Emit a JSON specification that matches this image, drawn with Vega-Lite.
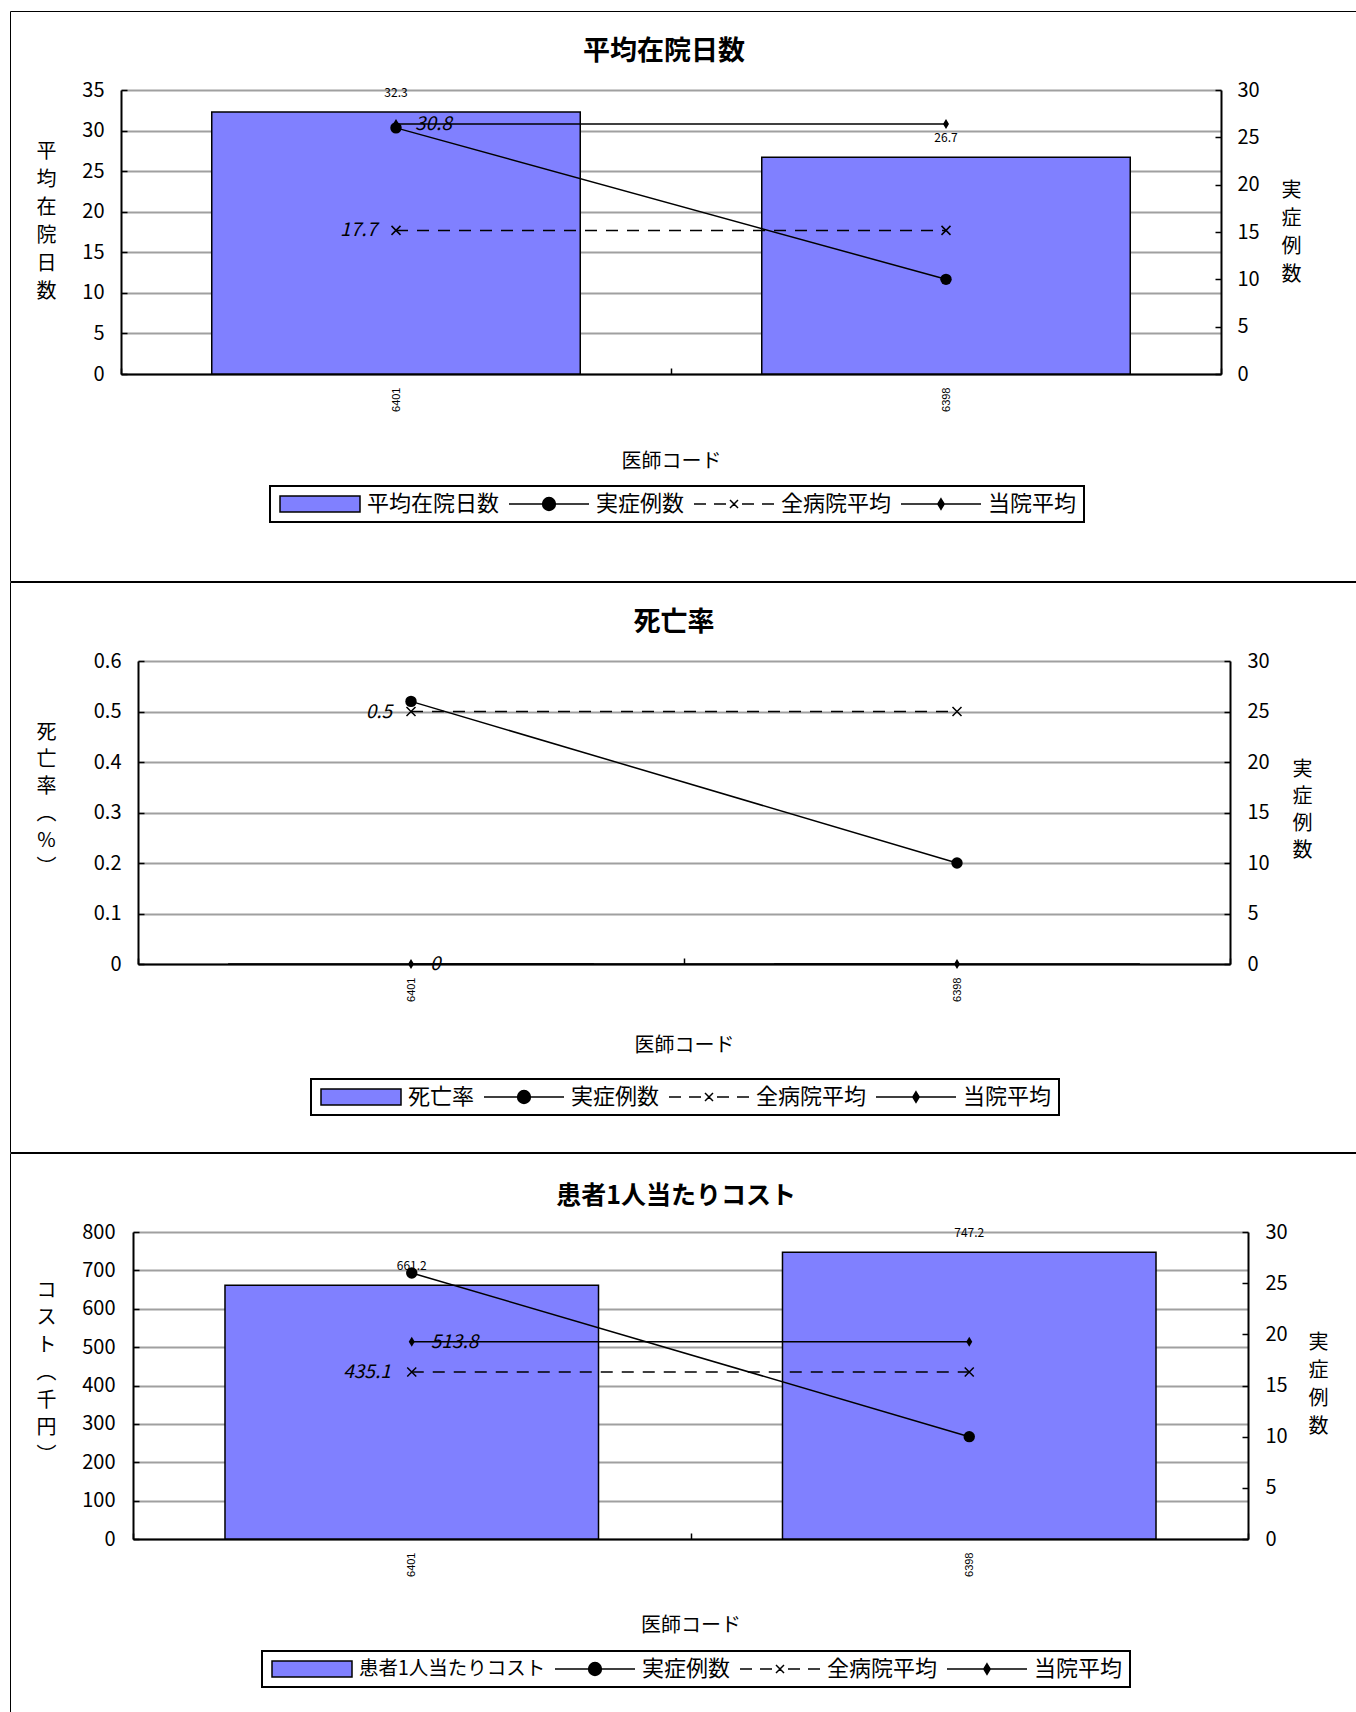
{
  "$schema": "https://vega.github.io/schema/vega-lite/v6.json",
  "padding": {"left": 3, "top": 10, "right": 0, "bottom": 0},
  "background": "white",
  "spacing": -4,
  "config": {"view": {"stroke": "black", "strokeWidth": 1}, "font": "Noto Sans CJK JP"},
  "resolve": {"scale": {"fill": "independent", "shape": "independent"}, "legend": {"fill": "independent", "shape": "independent"}},
  "vconcat": [
    {
      "width": 1360, "height": 570,
      "title": {"text": "平均在院日数", "offset": -68, "baseline": "middle", "dx": -26, "fontSize": 27, "fontWeight": "bold", "font": "Noto Sans CJK JP", "color": "black", "anchor": "middle", "frame": "group"},
      "data": {"values": [
        {"doc": "6401", "series": "平均在院日数", "value": 32.3},
        {"doc": "6398", "series": "平均在院日数", "value": 26.7},
        {"doc": "6401", "series": "実症例数", "value": 26},
        {"doc": "6398", "series": "実症例数", "value": 10},
        {"doc": "6401", "series": "全病院平均", "value": 17.7},
        {"doc": "6398", "series": "全病院平均", "value": 17.7},
        {"doc": "6401", "series": "当院平均", "value": 30.8},
        {"doc": "6398", "series": "当院平均", "value": 30.8}
      ]},
      "encoding": {
        "x": {"field": "doc", "type": "nominal", "sort": ["6401", "6398"],
          "scale": {"range": [111, 1211], "paddingInner": 0, "paddingOuter": 0},
          "axis": {"orient": "bottom", "offset": -207, "title": "医師コード", "titleFont": "Noto Sans CJK JP", "titleFontSize": 20, "titleFontWeight": "normal", "titleColor": "black", "titlePadding": 40,
            "labelAngle": 270, "labelFont": "Liberation Sans", "labelFontSize": 11, "labelColor": "black", "labelPadding": 19,
            "tickBand": "extent", "tickSize": -6, "tickColor": "black", "tickWidth": 1.5, "domainColor": "black", "domainWidth": 2, "grid": false}}
      },
      "layer": [
        {
          "encoding": {"y": {"field": "value", "type": "quantitative",
            "scale": {"domain": [0, 35], "range": [363, 79], "nice": false, "zero": true},
            "axis": {"orient": "left", "offset": -111, "values": [0, 5, 10, 15, 20, 25, 30, 35],
              "title": ["平", "均", "在", "院", "日", "数"], "titleAngle": 0, "titleAlign": "center", "titleBaseline": "middle", "titleFont": "Noto Sans CJK JP", "titleFontSize": 20, "titleFontWeight": "normal", "titleColor": "black", "titleLineHeight": 28, "titlePadding": -105, "titleY": 140,
              "minExtent": 40, "maxExtent": 40, "labelFont": "Noto Sans CJK JP", "labelFontSize": 20, "labelColor": "black", "labelPadding": 23,
              "tickSize": -6, "tickColor": "black", "tickWidth": 1.5, "domainColor": "black", "domainWidth": 2, "grid": true, "gridColor": "#a0a0a0", "gridWidth": 2}}},
          "layer": [
            {"transform": [{"filter": "datum.series === '平均在院日数'"}], "mark": {"type": "bar", "width": {"band": 0.67}, "color": "#8080ff", "stroke": "black", "strokeWidth": 1.5}},
            {"transform": [{"filter": "datum.series === '平均在院日数'"}], "mark": {"type": "text", "dy": -19, "fontSize": 12, "font": "Noto Sans CJK JP", "color": "black", "baseline": "middle"}, "encoding": {"text": {"field": "value", "type": "nominal"}}},
            {"transform": [{"filter": "datum.series === '全病院平均'"}], "mark": {"type": "line", "color": "black", "strokeWidth": 1.5, "strokeDash": [12, 9]}, "encoding": {}},
            {"transform": [{"filter": "datum.series === '全病院平均'"}], "mark": {"type": "point", "shape": "M-1,-1L1,1M-1,1L1,-1", "size": 81, "filled": false, "color": "black", "strokeWidth": 1.5, "opacity": 1}},
            {"transform": [{"filter": "datum.series === '全病院平均' && datum.doc === '6401'"}], "mark": {"type": "text", "align": "right", "dx": -19, "fontStyle": "italic", "fontSize": 19, "font": "Noto Sans CJK JP", "color": "black", "baseline": "middle"}, "encoding": {"text": {"field": "value", "type": "nominal"}}},
            {"transform": [{"filter": "datum.series === '当院平均'"}], "mark": {"type": "line", "color": "black", "strokeWidth": 1.5}, "encoding": {}},
            {"transform": [{"filter": "datum.series === '当院平均'"}], "mark": {"type": "point", "shape": "M0,-1L0.6,0L0,1L-0.6,0Z", "size": 100, "filled": true, "color": "black", "opacity": 1}},
            {"transform": [{"filter": "datum.series === '当院平均' && datum.doc === '6401'"}], "mark": {"type": "text", "align": "left", "dx": 19, "fontStyle": "italic", "fontSize": 19, "font": "Noto Sans CJK JP", "color": "black", "baseline": "middle"}, "encoding": {"text": {"field": "value", "type": "nominal"}}},
            {"transform": [{"filter": "false"}], "mark": {"type": "point", "filled": true},
              "encoding": {
                "fill": {"field": "series", "type": "nominal", "scale": {"domain": ["平均在院日数", "実症例数", "全病院平均", "当院平均"], "range": ["#8080ff", "black", "black", "black"]},
                  "legend": {"title": null, "orient": "none", "legendX": 260, "legendY": 475, "direction": "horizontal", "columns": 4, "strokeColor": "black", "fillColor": "white", "padding": 7, "columnPadding": 6, "labelFont": "Noto Sans CJK JP", "labelFontSize": 22, "labelColor": "black", "labelLimit": 400, "labelOffset": 68, "symbolSize": 256, "symbolStrokeColor": "black", "symbolStrokeWidth": 1.5, "symbolOpacity": 1, "encode": {"legend": {"update": {"strokeWidth": {"value": 2}}}}}},
                "shape": {"field": "series", "type": "nominal", "scale": {"domain": ["平均在院日数", "実症例数", "全病院平均", "当院平均"], "range": ["M-1,-1H9V1H-1Z", "M-1,0H9M4.8,0A0.8,0.8 0 1,1 3.2,0A0.8,0.8 0 1,1 4.8,0Z", "M-1,0H0.5M1.5,0H3M5,0H6.5M7.5,0H9M3.5,-0.5L4.5,0.5M3.5,0.5L4.5,-0.5", "M-1,0H9M4,-0.65L4.4,0L4,0.65L3.6,0Z"]},
                  "legend": {"title": null, "orient": "none", "legendX": 260, "legendY": 475, "direction": "horizontal", "columns": 4, "strokeColor": "black", "fillColor": "white", "padding": 7, "columnPadding": 6, "labelFont": "Noto Sans CJK JP", "labelFontSize": 22, "labelColor": "black", "labelLimit": 400, "labelOffset": 68, "symbolSize": 256, "symbolStrokeColor": "black", "symbolStrokeWidth": 1.5, "symbolOpacity": 1, "encode": {"legend": {"update": {"strokeWidth": {"value": 2}}}}}}
              }}
          ]
        },
        {
          "encoding": {"y": {"field": "value", "type": "quantitative",
            "scale": {"domain": [0, 30], "range": [363, 79], "nice": false, "zero": true},
            "axis": {"orient": "right", "offset": -149, "values": [0, 5, 10, 15, 20, 25, 30],
              "title": ["実", "症", "例", "数"], "titleAngle": 0, "titleAlign": "center", "titleBaseline": "middle", "titleFont": "Noto Sans CJK JP", "titleFontSize": 20, "titleFontWeight": "normal", "titleColor": "black", "titleLineHeight": 28, "titlePadding": -50, "titleY": 179,
              "minExtent": 36, "maxExtent": 36, "labelFont": "Noto Sans CJK JP", "labelFontSize": 20, "labelColor": "black", "labelPadding": 22,
              "tickSize": -6, "tickColor": "black", "tickWidth": 1.5, "domainColor": "black", "domainWidth": 2, "grid": false}}},
          "layer": [
            {"transform": [{"filter": "datum.series === '実症例数'"}], "mark": {"type": "line", "color": "black", "strokeWidth": 1.5}, "encoding": {}},
            {"transform": [{"filter": "datum.series === '実症例数'"}], "mark": {"type": "point", "shape": "circle", "size": 130, "filled": true, "color": "black", "opacity": 1}}
          ]
        }
      ],
      "resolve": {"scale": {"y": "independent"}}
    },
    {
      "width": 1360, "height": 570,
      "title": {"text": "死亡率", "offset": -68, "baseline": "middle", "dx": -16, "fontSize": 27, "fontWeight": "bold", "font": "Noto Sans CJK JP", "color": "black", "anchor": "middle", "frame": "group"},
      "data": {"values": [
        {"doc": "6401", "series": "死亡率", "value": 0},
        {"doc": "6398", "series": "死亡率", "value": 0},
        {"doc": "6401", "series": "実症例数", "value": 26},
        {"doc": "6398", "series": "実症例数", "value": 10},
        {"doc": "6401", "series": "全病院平均", "value": 0.5},
        {"doc": "6398", "series": "全病院平均", "value": 0.5},
        {"doc": "6401", "series": "当院平均", "value": 0},
        {"doc": "6398", "series": "当院平均", "value": 0}
      ]},
      "encoding": {
        "x": {"field": "doc", "type": "nominal", "sort": ["6401", "6398"],
          "scale": {"range": [128, 1220], "paddingInner": 0, "paddingOuter": 0},
          "axis": {"orient": "bottom", "offset": -188, "title": "医師コード", "titleFont": "Noto Sans CJK JP", "titleFontSize": 20, "titleFontWeight": "normal", "titleColor": "black", "titlePadding": 34,
            "labelAngle": 270, "labelFont": "Liberation Sans", "labelFontSize": 11, "labelColor": "black", "labelPadding": 19,
            "tickBand": "extent", "tickSize": -6, "tickColor": "black", "tickWidth": 1.5, "domainColor": "black", "domainWidth": 2, "grid": false}}
      },
      "layer": [
        {
          "encoding": {"y": {"field": "value", "type": "quantitative",
            "scale": {"domain": [0, 0.6], "range": [382, 79], "nice": false, "zero": true},
            "axis": {"orient": "left", "offset": -128, "values": [0, 0.1, 0.2, 0.3, 0.4, 0.5, 0.6], "format": "~g",
              "title": ["死", "亡", "率", "︵", "%", "︶"], "titleAngle": 0, "titleAlign": "center", "titleBaseline": "middle", "titleFont": "Noto Sans CJK JP", "titleFontSize": 20, "titleFontWeight": "normal", "titleColor": "black", "titleLineHeight": 27, "titlePadding": -83, "titleY": 150,
              "minExtent": 40, "maxExtent": 40, "labelFont": "Noto Sans CJK JP", "labelFontSize": 20, "labelColor": "black", "labelPadding": 23,
              "tickSize": -6, "tickColor": "black", "tickWidth": 1.5, "domainColor": "black", "domainWidth": 2, "grid": true, "gridColor": "#a0a0a0", "gridWidth": 2}}},
          "layer": [
            {"transform": [{"filter": "datum.series === '死亡率'"}], "mark": {"type": "bar", "width": {"band": 0.67}, "color": "#8080ff", "stroke": "black", "strokeWidth": 1.5}},
            {"transform": [{"filter": "datum.series === '全病院平均'"}], "mark": {"type": "line", "color": "black", "strokeWidth": 1.5, "strokeDash": [12, 9]}, "encoding": {}},
            {"transform": [{"filter": "datum.series === '全病院平均'"}], "mark": {"type": "point", "shape": "M-1,-1L1,1M-1,1L1,-1", "size": 81, "filled": false, "color": "black", "strokeWidth": 1.5, "opacity": 1}},
            {"transform": [{"filter": "datum.series === '全病院平均' && datum.doc === '6401'"}], "mark": {"type": "text", "align": "right", "dx": -19, "fontStyle": "italic", "fontSize": 19, "font": "Noto Sans CJK JP", "color": "black", "baseline": "middle"}, "encoding": {"text": {"field": "value", "type": "nominal"}}},
            {"transform": [{"filter": "datum.series === '当院平均'"}], "mark": {"type": "line", "color": "black", "strokeWidth": 1.5}, "encoding": {}},
            {"transform": [{"filter": "datum.series === '当院平均'"}], "mark": {"type": "point", "shape": "M0,-1L0.6,0L0,1L-0.6,0Z", "size": 100, "filled": true, "color": "black", "opacity": 1}},
            {"transform": [{"filter": "datum.series === '当院平均' && datum.doc === '6401'"}], "mark": {"type": "text", "align": "left", "dx": 19, "fontStyle": "italic", "fontSize": 19, "font": "Noto Sans CJK JP", "color": "black", "baseline": "middle"}, "encoding": {"text": {"field": "value", "type": "nominal"}}},
            {"transform": [{"filter": "false"}], "mark": {"type": "point", "filled": true},
              "encoding": {
                "fill": {"field": "series", "type": "nominal", "scale": {"domain": ["死亡率", "実症例数", "全病院平均", "当院平均"], "range": ["#8080ff", "black", "black", "black"]},
                  "legend": {"title": null, "orient": "none", "legendX": 301, "legendY": 497, "direction": "horizontal", "columns": 4, "strokeColor": "black", "fillColor": "white", "padding": 7, "columnPadding": 6, "labelFont": "Noto Sans CJK JP", "labelFontSize": 22, "labelColor": "black", "labelLimit": 400, "labelOffset": 68, "symbolSize": 256, "symbolStrokeColor": "black", "symbolStrokeWidth": 1.5, "symbolOpacity": 1, "encode": {"legend": {"update": {"strokeWidth": {"value": 2}}}}}},
                "shape": {"field": "series", "type": "nominal", "scale": {"domain": ["死亡率", "実症例数", "全病院平均", "当院平均"], "range": ["M-1,-1H9V1H-1Z", "M-1,0H9M4.8,0A0.8,0.8 0 1,1 3.2,0A0.8,0.8 0 1,1 4.8,0Z", "M-1,0H0.5M1.5,0H3M5,0H6.5M7.5,0H9M3.5,-0.5L4.5,0.5M3.5,0.5L4.5,-0.5", "M-1,0H9M4,-0.65L4.4,0L4,0.65L3.6,0Z"]},
                  "legend": {"title": null, "orient": "none", "legendX": 301, "legendY": 497, "direction": "horizontal", "columns": 4, "strokeColor": "black", "fillColor": "white", "padding": 7, "columnPadding": 6, "labelFont": "Noto Sans CJK JP", "labelFontSize": 22, "labelColor": "black", "labelLimit": 400, "labelOffset": 68, "symbolSize": 256, "symbolStrokeColor": "black", "symbolStrokeWidth": 1.5, "symbolOpacity": 1, "encode": {"legend": {"update": {"strokeWidth": {"value": 2}}}}}}
              }}
          ]
        },
        {
          "encoding": {"y": {"field": "value", "type": "quantitative",
            "scale": {"domain": [0, 30], "range": [382, 79], "nice": false, "zero": true},
            "axis": {"orient": "right", "offset": -140, "values": [0, 5, 10, 15, 20, 25, 30],
              "title": ["実", "症", "例", "数"], "titleAngle": 0, "titleAlign": "center", "titleBaseline": "middle", "titleFont": "Noto Sans CJK JP", "titleFontSize": 20, "titleFontWeight": "normal", "titleColor": "black", "titleLineHeight": 27, "titlePadding": -45, "titleY": 187,
              "minExtent": 36, "maxExtent": 36, "labelFont": "Noto Sans CJK JP", "labelFontSize": 20, "labelColor": "black", "labelPadding": 23,
              "tickSize": -6, "tickColor": "black", "tickWidth": 1.5, "domainColor": "black", "domainWidth": 2, "grid": false}}},
          "layer": [
            {"transform": [{"filter": "datum.series === '実症例数'"}], "mark": {"type": "line", "color": "black", "strokeWidth": 1.5}, "encoding": {}},
            {"transform": [{"filter": "datum.series === '実症例数'"}], "mark": {"type": "point", "shape": "circle", "size": 130, "filled": true, "color": "black", "opacity": 1}}
          ]
        }
      ],
      "resolve": {"scale": {"y": "independent"}}
    },
    {
      "width": 1360, "height": 570,
      "title": {"text": "患者1人当たりコスト", "offset": -68, "baseline": "middle", "dx": -14, "fontSize": 25, "fontWeight": "bold", "font": "Noto Sans CJK JP", "color": "black", "anchor": "middle", "frame": "group"},
      "data": {"values": [
        {"doc": "6401", "series": "患者1人当たりコスト", "value": 661.2},
        {"doc": "6398", "series": "患者1人当たりコスト", "value": 747.2},
        {"doc": "6401", "series": "実症例数", "value": 26},
        {"doc": "6398", "series": "実症例数", "value": 10},
        {"doc": "6401", "series": "全病院平均", "value": 435.1},
        {"doc": "6398", "series": "全病院平均", "value": 435.1},
        {"doc": "6401", "series": "当院平均", "value": 513.8},
        {"doc": "6398", "series": "当院平均", "value": 513.8}
      ]},
      "encoding": {
        "x": {"field": "doc", "type": "nominal", "sort": ["6401", "6398"],
          "scale": {"range": [123, 1238], "paddingInner": 0, "paddingOuter": 0},
          "axis": {"orient": "bottom", "offset": -184, "title": "医師コード", "titleFont": "Noto Sans CJK JP", "titleFontSize": 20, "titleFontWeight": "normal", "titleColor": "black", "titlePadding": 39,
            "labelAngle": 270, "labelFont": "Liberation Sans", "labelFontSize": 11, "labelColor": "black", "labelPadding": 19,
            "tickBand": "extent", "tickSize": -6, "tickColor": "black", "tickWidth": 1.5, "domainColor": "black", "domainWidth": 2, "grid": false}}
      },
      "layer": [
        {
          "encoding": {"y": {"field": "value", "type": "quantitative",
            "scale": {"domain": [0, 800], "range": [386, 79], "nice": false, "zero": true},
            "axis": {"orient": "left", "offset": -123, "values": [0, 100, 200, 300, 400, 500, 600, 700, 800],
              "title": ["コ", "ス", "ト", "︵", "千", "円", "︶"], "titleAngle": 0, "titleAlign": "center", "titleBaseline": "middle", "titleFont": "Noto Sans CJK JP", "titleFontSize": 20, "titleFontWeight": "normal", "titleColor": "black", "titleLineHeight": 27.5, "titlePadding": -118, "titleY": 137,
              "minExtent": 40, "maxExtent": 40, "labelFont": "Noto Sans CJK JP", "labelFontSize": 20, "labelColor": "black", "labelPadding": 24,
              "tickSize": -6, "tickColor": "black", "tickWidth": 1.5, "domainColor": "black", "domainWidth": 2, "grid": true, "gridColor": "#a0a0a0", "gridWidth": 2}}},
          "layer": [
            {"transform": [{"filter": "datum.series === '患者1人当たりコスト'"}], "mark": {"type": "bar", "width": {"band": 0.67}, "color": "#8080ff", "stroke": "black", "strokeWidth": 1.5}},
            {"transform": [{"filter": "datum.series === '患者1人当たりコスト'"}], "mark": {"type": "text", "dy": -19, "fontSize": 12, "font": "Noto Sans CJK JP", "color": "black", "baseline": "middle"}, "encoding": {"text": {"field": "value", "type": "nominal"}}},
            {"transform": [{"filter": "datum.series === '全病院平均'"}], "mark": {"type": "line", "color": "black", "strokeWidth": 1.5, "strokeDash": [12, 9]}, "encoding": {}},
            {"transform": [{"filter": "datum.series === '全病院平均'"}], "mark": {"type": "point", "shape": "M-1,-1L1,1M-1,1L1,-1", "size": 81, "filled": false, "color": "black", "strokeWidth": 1.5, "opacity": 1}},
            {"transform": [{"filter": "datum.series === '全病院平均' && datum.doc === '6401'"}], "mark": {"type": "text", "align": "right", "dx": -21, "fontStyle": "italic", "fontSize": 19, "font": "Noto Sans CJK JP", "color": "black", "baseline": "middle"}, "encoding": {"text": {"field": "value", "type": "nominal"}}},
            {"transform": [{"filter": "datum.series === '当院平均'"}], "mark": {"type": "line", "color": "black", "strokeWidth": 1.5}, "encoding": {}},
            {"transform": [{"filter": "datum.series === '当院平均'"}], "mark": {"type": "point", "shape": "M0,-1L0.6,0L0,1L-0.6,0Z", "size": 100, "filled": true, "color": "black", "opacity": 1}},
            {"transform": [{"filter": "datum.series === '当院平均' && datum.doc === '6401'"}], "mark": {"type": "text", "align": "left", "dx": 19, "fontStyle": "italic", "fontSize": 19, "font": "Noto Sans CJK JP", "color": "black", "baseline": "middle"}, "encoding": {"text": {"field": "value", "type": "nominal"}}},
            {"transform": [{"filter": "false"}], "mark": {"type": "point", "filled": true},
              "encoding": {
                "fill": {"field": "series", "type": "nominal", "scale": {"domain": ["患者1人当たりコスト", "実症例数", "全病院平均", "当院平均"], "range": ["#8080ff", "black", "black", "black"]},
                  "legend": {"title": null, "orient": "none", "legendX": 252, "legendY": 498, "direction": "horizontal", "columns": 4, "strokeColor": "black", "fillColor": "white", "padding": 7, "columnPadding": 6, "labelFont": "Noto Sans CJK JP", "labelFontSize": 22, "labelColor": "black", "labelLimit": 400, "labelOffset": 68, "symbolSize": 256, "symbolStrokeColor": "black", "symbolStrokeWidth": 1.5, "symbolOpacity": 1, "encode": {"legend": {"update": {"strokeWidth": {"value": 2}}}, "labels": {"update": {"fontSize": {"signal": "datum.label === '患者1人当たりコスト' ? 19.5 : 22"}}}}}},
                "shape": {"field": "series", "type": "nominal", "scale": {"domain": ["患者1人当たりコスト", "実症例数", "全病院平均", "当院平均"], "range": ["M-1,-1H9V1H-1Z", "M-1,0H9M4.8,0A0.8,0.8 0 1,1 3.2,0A0.8,0.8 0 1,1 4.8,0Z", "M-1,0H0.5M1.5,0H3M5,0H6.5M7.5,0H9M3.5,-0.5L4.5,0.5M3.5,0.5L4.5,-0.5", "M-1,0H9M4,-0.65L4.4,0L4,0.65L3.6,0Z"]},
                  "legend": {"title": null, "orient": "none", "legendX": 252, "legendY": 498, "direction": "horizontal", "columns": 4, "strokeColor": "black", "fillColor": "white", "padding": 7, "columnPadding": 6, "labelFont": "Noto Sans CJK JP", "labelFontSize": 22, "labelColor": "black", "labelLimit": 400, "labelOffset": 68, "symbolSize": 256, "symbolStrokeColor": "black", "symbolStrokeWidth": 1.5, "symbolOpacity": 1, "encode": {"legend": {"update": {"strokeWidth": {"value": 2}}}, "labels": {"update": {"fontSize": {"signal": "datum.label === '患者1人当たりコスト' ? 19.5 : 22"}}}}}}
              }}
          ]
        },
        {
          "encoding": {"y": {"field": "value", "type": "quantitative",
            "scale": {"domain": [0, 30], "range": [386, 79], "nice": false, "zero": true},
            "axis": {"orient": "right", "offset": -122, "values": [0, 5, 10, 15, 20, 25, 30],
              "title": ["実", "症", "例", "数"], "titleAngle": 0, "titleAlign": "center", "titleBaseline": "middle", "titleFont": "Noto Sans CJK JP", "titleFontSize": 20, "titleFontWeight": "normal", "titleColor": "black", "titleLineHeight": 28, "titlePadding": -50, "titleY": 189,
              "minExtent": 36, "maxExtent": 36, "labelFont": "Noto Sans CJK JP", "labelFontSize": 20, "labelColor": "black", "labelPadding": 23,
              "tickSize": -6, "tickColor": "black", "tickWidth": 1.5, "domainColor": "black", "domainWidth": 2, "grid": false}}},
          "layer": [
            {"transform": [{"filter": "datum.series === '実症例数'"}], "mark": {"type": "line", "color": "black", "strokeWidth": 1.5}, "encoding": {}},
            {"transform": [{"filter": "datum.series === '実症例数'"}], "mark": {"type": "point", "shape": "circle", "size": 130, "filled": true, "color": "black", "opacity": 1}}
          ]
        }
      ],
      "resolve": {"scale": {"y": "independent"}}
    }
  ]
}
